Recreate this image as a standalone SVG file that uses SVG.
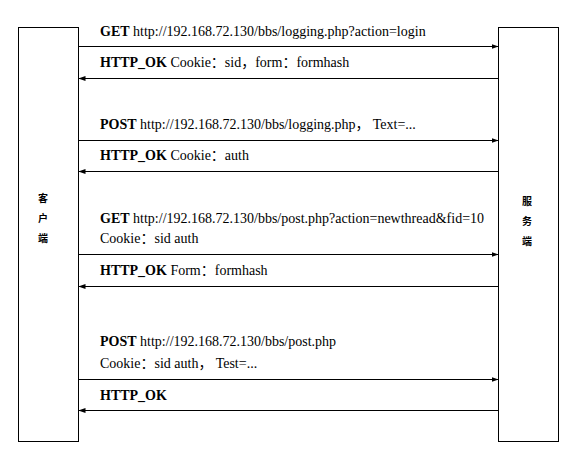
<svg xmlns="http://www.w3.org/2000/svg" width="580" height="475" viewBox="0 0 580 475">
<style>
.box{fill:#fff;stroke:#000;stroke-width:1}
.ln{stroke:#000;stroke-width:1;fill:none}
.b{font-weight:bold}
.cj{font-family:'Noto Sans CJK SC',sans-serif;font-size:10px;font-weight:bold;fill:#000;text-anchor:middle}
</style>
<defs>
<marker id="ah" markerWidth="7" markerHeight="6" refX="7" refY="3" orient="auto" markerUnits="userSpaceOnUse">
<path d="M0,0.5 L7,3 L0,5.5 Z" fill="#000"/>
</marker>
</defs>
<rect width="580" height="475" fill="#fff"/>
<g id="client">
<rect class="box" x="18.5" y="27.5" width="60" height="414"/>
<text class="cj" x="43" y="202">客</text>
<text class="cj" x="43" y="222">户</text>
<text class="cj" x="43" y="242">端</text>
</g>
<g id="server">
<rect class="box" x="498.5" y="27.5" width="60" height="414"/>
<text class="cj" x="527" y="205">服</text>
<text class="cj" x="527" y="225">务</text>
<text class="cj" x="527" y="245">端</text>
</g>
<g id="connectors">
<line class="ln" x1="78.5" y1="46.5" x2="498.5" y2="46.5" marker-end="url(#ah)"/>
<line class="ln" x1="498.5" y1="78.5" x2="78.5" y2="78.5" marker-end="url(#ah)"/>
<line class="ln" x1="78.5" y1="140.5" x2="498.5" y2="140.5" marker-end="url(#ah)"/>
<line class="ln" x1="498.5" y1="171.5" x2="78.5" y2="171.5" marker-end="url(#ah)"/>
<line class="ln" x1="78.5" y1="254.5" x2="498.5" y2="254.5" marker-end="url(#ah)"/>
<line class="ln" x1="498.5" y1="286.5" x2="78.5" y2="286.5" marker-end="url(#ah)"/>
<line class="ln" x1="78.5" y1="379.5" x2="498.5" y2="379.5" marker-end="url(#ah)"/>
<line class="ln" x1="498.5" y1="410.5" x2="78.5" y2="410.5" marker-end="url(#ah)"/>
</g>
<g id="labels" font-family="'Liberation Serif', 'Times New Roman', 'Noto Sans CJK SC', serif" font-size="14" fill="#000">
<text x="100" y="36"><tspan class="b">GET</tspan> http://192.168.72.130/bbs/logging.php?action=login</text>
<text x="100" y="67"><tspan class="b">HTTP_OK</tspan> Cookie：sid，form：formhash</text>
<text x="100" y="129"><tspan class="b">POST</tspan> http://192.168.72.130/bbs/logging.php， Text=...</text>
<text x="100" y="160"><tspan class="b">HTTP_OK</tspan> Cookie：auth</text>
<text x="100" y="223"><tspan class="b">GET</tspan> http://192.168.72.130/bbs/post.php?action=newthread&amp;fid=10</text>
<text x="100" y="243">Cookie：sid auth</text>
<text x="100" y="275"><tspan class="b">HTTP_OK</tspan> Form：formhash</text>
<text x="100" y="346"><tspan class="b">POST</tspan> http://192.168.72.130/bbs/post.php</text>
<text x="100" y="368">Cookie：sid auth， Test=...</text>
<text x="100" y="400"><tspan class="b">HTTP_OK</tspan></text>
</g>
</svg>
